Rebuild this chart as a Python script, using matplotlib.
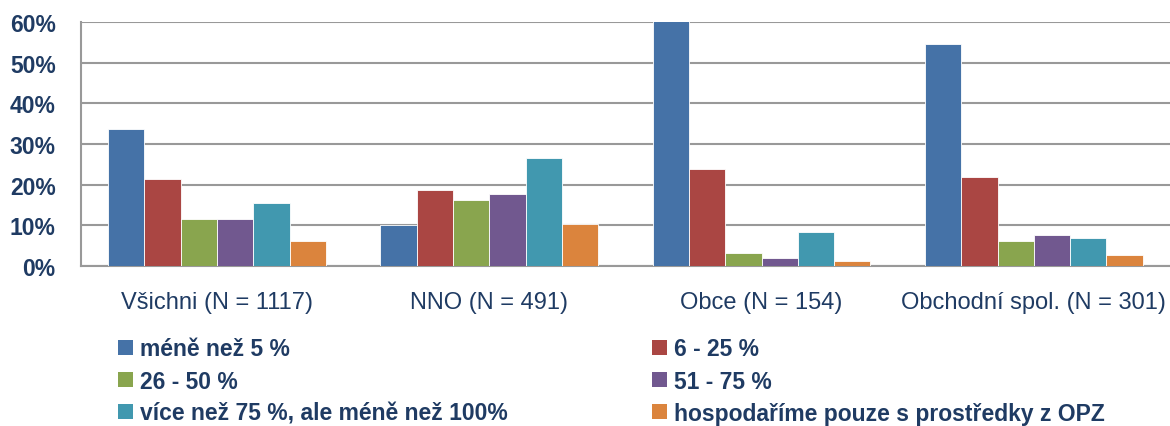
import numpy as np
import matplotlib
matplotlib.use("Agg")
import matplotlib.pyplot as plt
from matplotlib.patches import Patch

plt.rcParams['font.family'] = ['Liberation Sans', 'DejaVu Sans']

categories = ["Všichni (N = 1117)", "NNO (N = 491)", "Obce (N = 154)", "Obchodní spol. (N = 301)"]
series_names = ["méně než 5 %", "6 - 25 %", "26 - 50 %", "51 - 75 %",
                "více než 75 %, ale méně než 100%", "hospodaříme pouze s prostředky z OPZ"]
values = [
    [33.7, 10.1, 61.0, 54.5],
    [21.4, 18.7, 23.8, 21.9],
    [11.5, 16.2, 3.2, 6.1],
    [11.5, 17.7, 2.0, 7.6],
    [15.5, 26.5, 8.4, 6.9],
    [6.1, 10.3, 1.2, 2.7],
]
colors = ["#4572A7", "#AA4643", "#89A54E", "#71588F", "#4198AF", "#DB843D"]
text_color = "#1F3B63"

fig = plt.figure(figsize=(11.7, 4.27), dpi=100)
ax = fig.add_axes([0.069, 0.375, 0.931, 0.571])

x = np.arange(len(categories))
n = len(series_names)
w = 0.8 / n
for i in range(n):
    ax.bar(x - 0.4 + w * (i + 0.5), values[i], width=w, color=colors[i],
           edgecolor="white", linewidth=0.6, zorder=3)

ax.set_xlim(-0.5, len(categories) - 0.5)
ax.set_ylim(0, 60)
ax.set_yticks(np.arange(0, 61, 10))
ax.set_yticklabels([f"{v}%" for v in range(0, 61, 10)], fontsize=16.5, fontweight="bold",
                   color=text_color)
ax.set_xticks(x)
ax.set_xticklabels(categories, fontsize=17, color=text_color)
ax.tick_params(axis="y", length=0, pad=18)
ax.tick_params(axis="x", length=0, pad=18)
ax.grid(axis="y", color="#999999", linewidth=1.5, zorder=0)
for s in ["top", "right"]:
    ax.spines[s].set_visible(False)
for s in ["left", "bottom"]:
    ax.spines[s].set_color("#999999")
    ax.spines[s].set_linewidth(1.5)

order = [0, 2, 4, 1, 3, 5]
handles = [Patch(facecolor=colors[i]) for i in order]
labels = [series_names[i] for i in order]
leg = fig.legend(handles, labels, ncol=2, loc="upper left", bbox_to_anchor=(0.093, 0.229),
                 frameon=False, handlelength=0.65, handleheight=0.65, handletextpad=0.3,
                 columnspacing=6.3, labelspacing=0.4, borderaxespad=0,
                 prop={'size': 16.5, 'weight': 'bold'})
for t in leg.get_texts():
    t.set_color(text_color)

fig.savefig("out.png", dpi=100)
